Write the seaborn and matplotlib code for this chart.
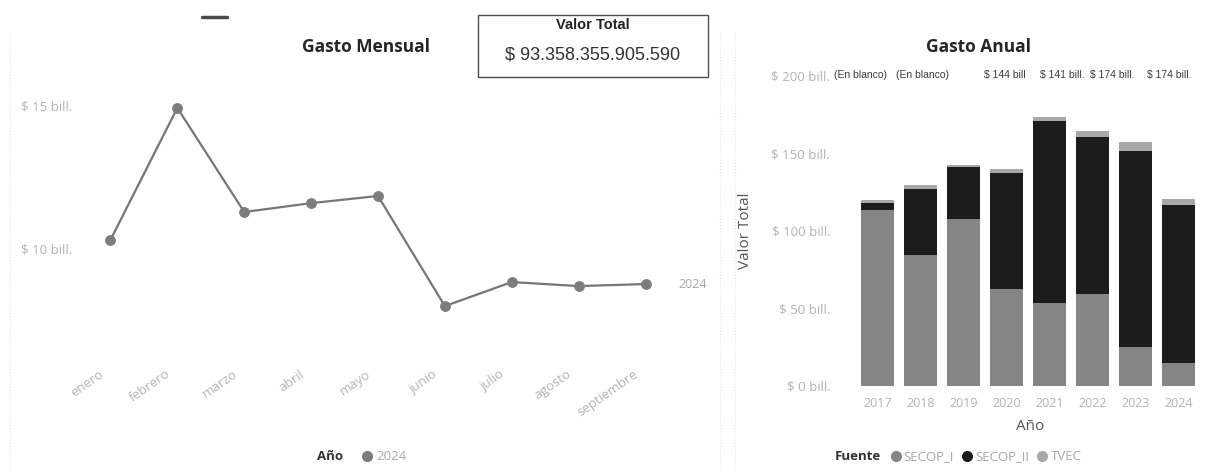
import numpy as np
import pandas as pd
import matplotlib.pyplot as plt
import seaborn as sns
from matplotlib.lines import Line2D
from matplotlib.patches import Rectangle
from matplotlib.ticker import FuncFormatter
from matplotlib.transforms import ScaledTranslation

# ---------- Datos ----------
meses = ["enero", "febrero", "marzo", "abril", "mayo",
         "junio", "julio", "agosto", "septiembre"]
gasto_mensual = [10.28, 14.9, 11.26, 11.57, 11.82, 7.97, 8.81, 8.67, 8.74]  # bill.
anio_linea = "2024"

anios = ["2017", "2018", "2019", "2020", "2021", "2022", "2023", "2024"]
secop_i = [113.5, 84.1, 107.7, 62.2, 53.4, 59.0, 25.1, 14.4]
secop_ii = [4.3, 42.9, 33.2, 74.9, 117.1, 101.2, 126.1, 101.9]
tvec = [1.7, 2.8, 1.8, 2.8, 3.1, 4.3, 6.3, 4.3]
fuentes = ["SECOP_I", "SECOP_II", "TVEC"]
colores = ["#858585", "#1c1c1c", "#a8a8a8"]

etiquetas_sup = ["(En blanco)", "(En blanco)", "$ 144 bill", "$ 141 bill.",
                 "$ 174 bill.", "$ 174 bill."]
etiquetas_x = [834, 896, 984, 1040, 1090, 1147]  # px, fila de etiquetas superpuestas

valor_total = "$ 93.358.355.905.590"

# ---------- Estilo ----------
sns.set_theme(style="white")
plt.rcParams["font.family"] = ["Open Sans", "DejaVu Sans"]

W, H = 1207, 474
fig = plt.figure(figsize=(W / 100, H / 100), dpi=100)
fig.patch.set_facecolor("white")

def fx(px):
    return px / W

def fy(py):
    return 1 - py / H

tick_gray = "#b3b3b3"
fmt_bill = FuncFormatter(lambda v, p: f"$ {v:.0f} bill.")

# bordes punteados de los paneles
for x in [10, 720, 735]:
    fig.add_artist(Line2D([fx(x), fx(x)], [fy(33), fy(470)], transform=fig.transFigure,
                          color="#e2e2e2", lw=0.8, ls=":"))
fig.add_artist(Line2D([fx(202), fx(227)], [fy(17), fy(17)], transform=fig.transFigure,
                      color="#4a4a4a", lw=2.5))

# ==========================================
# GASTO MENSUAL
# ==========================================
ax1 = fig.add_axes([fx(77), fy(355), fx(679 - 77), (355 - 75) / H])
df_mes = pd.DataFrame({"Mes": meses, "Valor": gasto_mensual})
sns.lineplot(data=df_mes, x="Mes", y="Valor", sort=False, ax=ax1,
             color="#767676", lw=1.6, marker="o", markersize=7,
             markerfacecolor="#7c7c7c", markeredgecolor="#7c7c7c")
ax1.set_xlim(-0.5, len(meses) - 0.5)
ax1.set_ylim(6.26, 16.05)
ax1.set_yticks([10, 15])
ax1.yaxis.set_major_formatter(fmt_bill)
ax1.tick_params(axis="y", length=0, pad=3.5, labelsize=9.5, labelcolor=tick_gray)
ax1.tick_params(axis="x", length=0, pad=9, labelsize=9.5, labelcolor=tick_gray)
shift = ScaledTranslation(-0.12, 0, fig.dpi_scale_trans)
for lbl in ax1.get_xticklabels():
    lbl.set_rotation(35)
    lbl.set_ha("right")
    lbl.set_rotation_mode("anchor")
    lbl.set_transform(lbl.get_transform() + shift)
ax1.set_xlabel("")
ax1.set_ylabel("")
for s in ax1.spines.values():
    s.set_visible(False)
ax1.annotate(anio_linea, (len(meses) - 1, gasto_mensual[-1]), xytext=(33, 0),
             textcoords="offset pixels", va="center", ha="left",
             fontsize=9, color="#a8a8a8")

fig.text(fx(366), fy(47), "Gasto Mensual", ha="center", va="center",
         fontsize=12.5, weight="bold", color="#252525")

fig.text(fx(317), fy(457), "Año", ha="left", va="center", fontsize=9.5,
         weight="bold", color="#333333")
h1 = [Line2D([], [], ls="", marker="o", markersize=7, color="#7c7c7c")]
fig.legend(h1, [anio_linea], loc="center left", bbox_to_anchor=(fx(355), fy(457)),
           frameon=False, handlelength=0.8, handletextpad=0.3, borderpad=0,
           fontsize=9.5, labelcolor="#a8a8a8")

# ---------- Valor Total ----------
fig.add_artist(Rectangle((fx(478), fy(77)), fx(708 - 478), (77 - 15) / H,
                         transform=fig.transFigure, fill=False,
                         edgecolor="#4d4d4d", lw=1))
fig.text(fx(593), fy(25), "Valor Total", ha="center", va="center", fontsize=10.5,
         weight="bold", color="#222222", family="Liberation Sans")
fig.text(fx(593), fy(55), valor_total, ha="center", va="center", fontsize=13,
         color="#333333", family="Liberation Sans")

# ==========================================
# GASTO ANUAL (barras apiladas)
# ==========================================
ax2 = fig.add_axes([fx(856), fy(385.7), fx(344), 310 / H])
df_anual = pd.DataFrame({"Año": anios, "SECOP_I": secop_i,
                         "SECOP_II": secop_ii, "TVEC": tvec})
acumulado = df_anual[fuentes].cumsum(axis=1)

# se dibuja primero el total y encima las capas inferiores
for fuente, color in reversed(list(zip(fuentes, colores))):
    sns.barplot(x=df_anual["Año"], y=acumulado[fuente], color=color, saturation=1,
                width=0.77, errorbar=None, ax=ax2, linewidth=0)

ax2.set_xlim(-0.5, len(anios) - 0.5)
ax2.set_ylim(0, 200)
ax2.set_yticks([0, 50, 100, 150, 200])
ax2.yaxis.set_major_formatter(fmt_bill)
ax2.tick_params(axis="y", length=0, pad=18.5, labelsize=9.5, labelcolor=tick_gray)
ax2.tick_params(axis="x", length=0, pad=8, labelsize=9, labelcolor=tick_gray)
for s in ax2.spines.values():
    s.set_visible(False)
ax2.set_ylabel("Valor Total", fontsize=11, color="#555555")
ax2.yaxis.set_label_coords((753 - 856) / 344, 0.5)
ax2.set_xlabel("Año", fontsize=11, color="#555555")
ax2.xaxis.set_label_coords((1030 - 856) / 344, -(419 - 385.7) / 310)

fig.text(fx(978), fy(47), "Gasto Anual", ha="center", va="center",
         fontsize=12.5, weight="bold", color="#252525")

for txt, x in zip(etiquetas_sup, etiquetas_x):
    fig.text(fx(x), fy(75), txt, ha="left", va="center", fontsize=7.5,
             color="#3a3a3a", family="Liberation Sans")

fig.text(fx(835), fy(457), "Fuente", ha="left", va="center", fontsize=9.5,
         weight="bold", color="#333333")
h2 = [Line2D([], [], ls="", marker="o", markersize=7, color=c) for c in colores]
fig.legend(h2, fuentes, loc="center left", bbox_to_anchor=(fx(884), fy(457)),
           ncol=3, frameon=False, handlelength=0.8, handletextpad=0.2,
           columnspacing=0.6, borderpad=0, fontsize=9.5, labelcolor="#a8a8a8")

plt.savefig("out.png", dpi=100)
plt.close()
